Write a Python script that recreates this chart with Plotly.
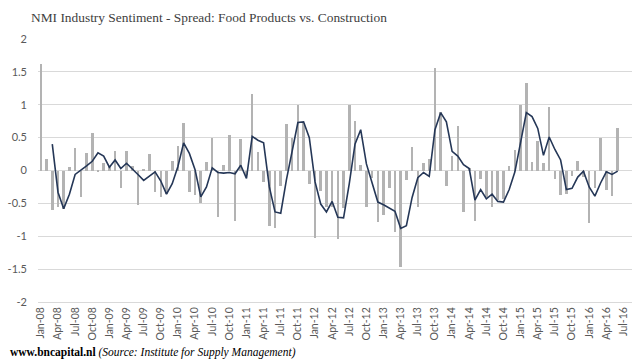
import plotly.graph_objects as go

# Monthly spread values (bars), Jan-08 .. Jun-16
spread = [
    1.62, 0.17, -0.60, -0.56, -0.58, 0.06, 0.34, -0.41, 0.27, 0.57, -0.03, 0.11,
    0.07, 0.30, -0.27, 0.29, 0.07, -0.53, 0.01, 0.25, -0.33, -0.41, -0.35, 0.15,
    0.38, 0.72, -0.33, -0.37, -0.50, 0.13, 0.50, -0.71, 0.08, 0.54, -0.77, 0.48,
    -0.07, 1.16, 0.28, -0.18, -0.84, -0.88, -0.23, 0.70, 0.49, 1.00, 0.72, -0.21,
    -1.02, -0.31, -0.55, -0.55, -1.04, -0.57, 1.00, 0.76, 0.09, -0.55, -0.12, -0.78,
    -0.67, -0.26, -0.93, -1.46, -0.14, 0.36, -0.56, 0.11, 0.18, 1.56, 0.89, -0.23,
    0.22, 0.68, -0.63, 0.04, -0.77, -0.13, -0.40, -0.55, -0.45, -0.44, 0.07, 0.31,
    0.99, 1.33, 0.13, 0.45, 0.12, 0.97, -0.13, -0.37, -0.36, -0.08, 0.15, -0.10,
    -0.80, -0.27, 0.50, -0.29, -0.39, 0.64,
]

# Smoothed line (3-month average), starting Mar-08
smooth = [
    None, None, 0.40, -0.33, -0.58, -0.36, -0.06, -0.00, 0.07, 0.14, 0.27, 0.22,
    0.05, 0.16, 0.03, 0.11, 0.03, -0.06, -0.15, -0.09, -0.02, -0.16, -0.36, -0.20,
    0.06, 0.42, 0.26, 0.01, -0.40, -0.25, 0.04, -0.03, -0.04, -0.03, -0.05, 0.08,
    -0.12, 0.52, 0.46, 0.42, -0.25, -0.63, -0.65, -0.14, 0.32, 0.73, 0.74, 0.50,
    -0.17, -0.51, -0.63, -0.47, -0.71, -0.72, -0.20, 0.40, 0.62, 0.10, -0.19, -0.48,
    -0.52, -0.57, -0.62, -0.88, -0.84, -0.41, -0.11, -0.03, -0.09, 0.62, 0.88, 0.74,
    0.29, 0.22, 0.09, 0.03, -0.45, -0.29, -0.43, -0.36, -0.47, -0.48, -0.29, -0.02,
    0.46, 0.88, 0.82, 0.64, 0.23, 0.51, 0.32, 0.16, -0.29, -0.27, -0.10, -0.01,
    -0.25, -0.39, -0.19, -0.02, -0.06, -0.01,
]

tick_labels = [
    "Jan-08", "Apr-08", "Jul-08", "Oct-08", "Jan-09", "Apr-09", "Jul-09", "Oct-09",
    "Jan-10", "Apr-10", "Jul-10", "Oct-10", "Jan-11", "Apr-11", "Jul-11", "Oct-11",
    "Jan-12", "Apr-12", "Jul-12", "Oct-12", "Jan-13", "Apr-13", "Jul-13", "Oct-13",
    "Jan-14", "Apr-14", "Jul-14", "Oct-14", "Jan-15", "Apr-15", "Jul-15", "Oct-15",
    "Jan-16", "Apr-16", "Jul-16",
]
tick_positions = list(range(0, 3 * len(tick_labels), 3))
month_index = list(range(len(spread)))

W, H = 640, 361
ML, MR, MT, MB = 33, 8, 39, 59

fig = go.Figure()
fig.add_trace(go.Bar(
    x=month_index, y=spread, marker_color="#b3b3b3", marker_line_width=0,
    width=0.45, showlegend=False, hoverinfo="skip",
))
fig.add_trace(go.Scatter(
    x=month_index, y=smooth, mode="lines",
    line=dict(color="#253757", width=1.6), showlegend=False, hoverinfo="skip",
))

fig.update_layout(
    width=W, height=H,
    margin=dict(l=ML, r=MR, t=MT, b=MB),
    paper_bgcolor="white", plot_bgcolor="white",
    bargap=0,
    title=dict(
        text="NMI Industry Sentiment - Spread: Food Products vs. Construction",
        x=31 / W, xref="container", xanchor="left",
        y=1 - 17 / H, yref="container", yanchor="middle",
        font=dict(family="Liberation Serif", size=13.4, color="#404040"),
    ),
    xaxis=dict(
        range=[-0.5, 103.5], tickmode="array", tickvals=tick_positions,
        ticktext=tick_labels, tickangle=-90,
        tickfont=dict(family="Lato", size=10.5, color="#595959"),
        showgrid=False, zeroline=False, showline=True, linecolor="#d9d9d9",
        linewidth=1, ticks="",
    ),
    yaxis=dict(
        range=[-2, 2], tickmode="array",
        tickvals=[-2, -1.5, -1, -0.5, 0, 0.5, 1, 1.5, 2],
        ticktext=["-2", "-1.5", "-1", "-0.5", "0", "0.5", "1", "1.5", "2"],
        tickfont=dict(family="Lato", size=11, color="#595959"),
        showgrid=True, gridcolor="#d9d9d9", gridwidth=1, zeroline=False,
        ticklabelstandoff=10,
    ),
    annotations=[dict(
        text="<b>www.bncapital.nl</b> <i>(Source: Institute for Supply Management)</i>",
        x=(3 - ML) / (W - ML - MR), xref="paper",
        y=(H - MB - 352) / (H - MT - MB), yref="paper", showarrow=False,
        xanchor="left", yanchor="middle",
        font=dict(family="Liberation Serif", size=11.5, color="#000000"),
    )],
)

fig.write_html(
    "out.html",
    config={"displayModeBar": False},
    post_script="document.body.style.margin='0';document.body.style.padding='0';",
)
